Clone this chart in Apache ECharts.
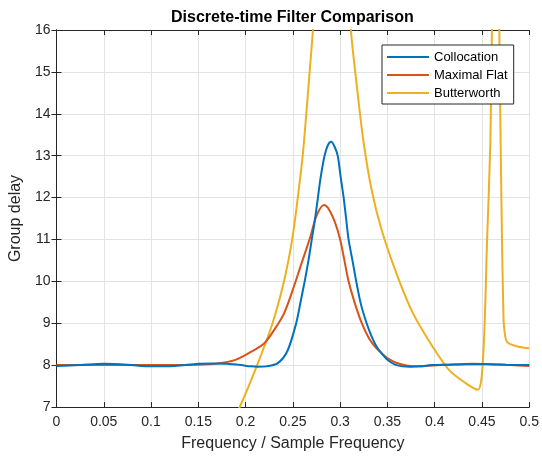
<!DOCTYPE html>
<html>
<head>
    <meta charset="UTF-8">
    <title>Discrete-time Filter Comparison</title>
    <script src="https://cdn.jsdelivr.net/npm/echarts@6/dist/echarts.min.js"></script>
    <style>
        html, body { margin: 0; padding: 0; background: #fff; }
    </style>
</head>
<body>
    <div id="main" style="width: 542px; height: 458px;"></div>

    <script>
        // Values
        var collocFreq = [0, 0.025, 0.05, 0.075, 0.1, 0.125, 0.15, 0.165, 0.18, 0.195, 0.205, 0.213, 0.222, 0.2337, 0.2441, 0.2535, 0.2585, 0.2625, 0.2665, 0.27, 0.2735, 0.2765, 0.2795, 0.2835, 0.287, 0.2905, 0.294, 0.2974, 0.3005, 0.3037, 0.3063, 0.3089, 0.313, 0.317, 0.322, 0.328, 0.333, 0.3386, 0.344, 0.35, 0.3595, 0.3735, 0.385, 0.397, 0.415, 0.435, 0.455, 0.475, 0.5];
        var collocDelay = [7.98, 8.0, 8.03, 8.01, 7.97, 7.98, 8.03, 8.04, 8.03, 8.0, 7.97, 7.96, 7.97, 8.04, 8.33, 9.0, 9.55, 10.0, 10.5, 11.0, 11.5, 12.0, 12.5, 13.0, 13.25, 13.33, 13.22, 13.0, 12.5, 12.0, 11.5, 11.0, 10.5, 10.0, 9.45, 9.0, 8.7, 8.44, 8.28, 8.13, 8.0, 7.96, 7.97, 8.0, 8.01, 8.02, 8.02, 8.01, 8.0];

        var flatFreq = [0, 0.05, 0.1, 0.15, 0.17, 0.1885, 0.2059, 0.2198, 0.2302, 0.2406, 0.251, 0.258, 0.2684, 0.2753, 0.283, 0.288, 0.295, 0.3, 0.3045, 0.3089, 0.3159, 0.3229, 0.33, 0.3368, 0.345, 0.3525, 0.36, 0.37, 0.377, 0.39, 0.405, 0.425, 0.44, 0.46, 0.48, 0.5];
        var flatDelay = [8.0, 8.0, 8.0, 8.01, 8.04, 8.12, 8.32, 8.52, 8.84, 9.23, 9.87, 10.35, 11.06, 11.58, 11.82, 11.72, 11.38, 11.0, 10.5, 10.0, 9.45, 9.0, 8.66, 8.44, 8.26, 8.13, 8.05, 7.99, 7.97, 7.98, 8.0, 8.02, 8.03, 8.02, 8.0, 7.98];

        var buttFreq = [0, 0.1, 0.15, 0.18, 0.1938, 0.2122, 0.2285, 0.2406, 0.2493, 0.2552, 0.2604, 0.2642, 0.2677, 0.2712, 0.276, 0.283, 0.29, 0.298, 0.305, 0.3114, 0.3177, 0.3246, 0.3333, 0.3438, 0.3595, 0.3769, 0.3978, 0.4153, 0.4327, 0.4456, 0.4512, 0.4554, 0.4589, 0.4605, 0.4635, 0.466, 0.4683, 0.4705, 0.4728, 0.4745, 0.4763, 0.48, 0.4885, 0.5];
        var buttDelay = [4.5, 5.2, 5.9, 6.4, 7.0, 8.0, 9.0, 10.0, 11.0, 12.0, 13.0, 14.0, 15.0, 16.0, 18, 22, 25, 22, 18.5, 16.0, 14.65, 13.35, 12.18, 11.23, 10.19, 9.24, 8.44, 7.88, 7.57, 7.41, 8.2, 10.99, 13.35, 16, 20, 20, 16, 12, 9.08, 8.7, 8.56, 8.5, 8.44, 8.40];

        var seriesNames = ['Collocation', 'Maximal Flat', 'Butterworth'];
        var seriesColors = ['#0072BD', '#D95319', '#EDB120'];

        function pairs(xs, ys) {
            return xs.map(function (x, i) { return [x, ys[i]]; });
        }

        var chart = echarts.init(document.getElementById('main'));
        var font = 'Liberation Sans, Helvetica, Arial, sans-serif';
        var axisColor = '#262626';
        var gridColor = '#e3e3e3';

        function makeX(pos, showLabels) {
            return {
                type: 'value',
                position: pos,
                min: 0,
                max: 0.5,
                interval: 0.05,
                name: showLabels ? 'Frequency / Sample Frequency' : '',
                nameLocation: 'middle',
                nameGap: 29,
                nameTextStyle: { fontFamily: font, fontSize: 16, color: axisColor },
                axisLine: { show: true, lineStyle: { color: axisColor, width: 1 } },
                axisTick: { show: true, inside: true, length: 5, lineStyle: { color: axisColor } },
                axisLabel: { show: showLabels, fontFamily: font, fontSize: 14, color: axisColor, margin: 8 },
                splitLine: { show: showLabels, lineStyle: { color: gridColor, width: 1 } }
            };
        }

        function makeY(pos, showLabels) {
            return {
                type: 'value',
                position: pos,
                min: 7,
                max: 16,
                interval: 1,
                name: showLabels ? 'Group delay' : '',
                nameLocation: 'middle',
                nameGap: 28,
                nameTextStyle: { fontFamily: font, fontSize: 16, color: axisColor },
                axisLine: { show: true, lineStyle: { color: axisColor, width: 1 } },
                axisTick: { show: true, inside: true, length: 5, lineStyle: { color: axisColor } },
                axisLabel: { show: showLabels, fontFamily: font, fontSize: 14, color: axisColor, margin: 6 },
                splitLine: { show: showLabels, lineStyle: { color: gridColor, width: 1 } }
            };
        }

        var data = [pairs(collocFreq, collocDelay), pairs(flatFreq, flatDelay), pairs(buttFreq, buttDelay)];

        var option = {
            backgroundColor: '#fff',
            animation: false,
            title: {
                text: 'Discrete-time Filter Comparison',
                left: 171,
                top: 10,
                padding: 0,
                textStyle: { fontFamily: font, fontSize: 16, fontWeight: 'bold', color: '#000' }
            },
            legend: {
                orient: 'vertical',
                left: 382,
                top: 45,
                icon: 'rect',
                itemWidth: 42,
                itemHeight: 2,
                itemGap: 4,
                padding: [5, 6, 4, 5],
                borderColor: axisColor,
                borderWidth: 1,
                backgroundColor: '#fff',
                textStyle: { fontFamily: font, fontSize: 13, color: '#000', lineHeight: 14 },
                data: seriesNames
            },
            grid: {
                left: 53,
                right: 11,
                top: 30,
                bottom: 51
            },
            xAxis: [makeX('bottom', true), makeX('top', false)],
            yAxis: [makeY('left', true), makeY('right', false)],
            series: seriesNames.map(function (name, i) {
                return {
                    name: name,
                    type: 'line',
                    xAxisIndex: 0,
                    yAxisIndex: 0,
                    data: data[i],
                    symbol: 'none',
                    smooth: 0.3,
                    clip: true,
                    color: seriesColors[i],
                    lineStyle: { color: seriesColors[i], width: 2 },
                    z: 3 - i
                };
            })
        };
        chart.setOption(option);
    </script>
</body>
</html>
